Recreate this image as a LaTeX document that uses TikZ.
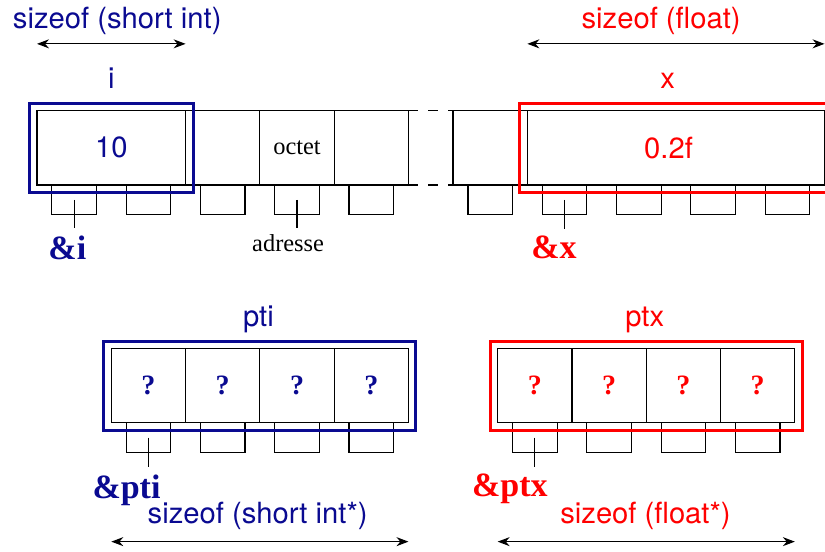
\documentclass[tikz,border=0pt]{standalone}
\usepackage{fontspec}
\setmainfont{Liberation Serif}
\setsansfont{TeX Gyre Heros}
\usepackage{tikz}
\usetikzlibrary{arrows.meta}
\definecolor{varblue}{RGB}{10,10,145}
\definecolor{varred}{RGB}{255,0,0}

\begin{document}
\begin{tikzpicture}[x=37.15pt,y=37.15pt,line width=0.6pt,
  lsans/.style={font=\sffamily\fontsize{14.6}{17}\selectfont},
  lserif/.style={font=\fontsize{12.2}{14}\selectfont},
  lamp/.style={font=\bfseries\fontsize{17}{19}\selectfont,anchor=base east},
  lquest/.style={font=\bfseries\fontsize{14}{17}\selectfont},
  adrbox/.style={draw,minimum width=22.3pt,minimum height=15pt,inner sep=0pt},
  varframe/.style={line width=1.5pt},
  sizearrow/.style={{Stealth[length=6pt,width=4.5pt]}-{Stealth[length=6pt,width=4.5pt]}}]
\useasboundingbox (-0.498,-4.926) rectangle (10.606,2.49);

\draw (0,0) rectangle (2,1) rectangle (3,0) rectangle (4,1) rectangle (5,0);
\draw[dash pattern=on 5pt off 5pt] (5,0) -- (5.6,0) (5,1) -- (5.6,1);
\draw (5.6,0) rectangle (6.6,1) rectangle (10.6,0);

\node[adrbox] (a1) at (0.5,-0.2) {};
\node[adrbox] (a2) at (1.5,-0.2) {};
\node[adrbox] (a3) at (2.5,-0.2) {};
\node[adrbox] (a4) at (3.5,-0.2) {};
\node[adrbox] (a5) at (4.5,-0.2) {};
\node[adrbox] (a6) at (6.1,-0.2) {};
\node[adrbox] (a7) at (7.1,-0.2) {};
\node[adrbox] (a8) at (8.1,-0.2) {};
\node[adrbox] (a9) at (9.1,-0.2) {};
\node[adrbox] (a10) at (10.1,-0.2) {};

\node[lsans,varblue] (vali) at (1,0.5) {10};
\node[lserif] (octet) at (3.5,0.5) {octet};
\node[lsans,varred] (valx) at (8.5,0.5) {0.2f};

\node[lsans,varblue,anchor=base] (nomi) at (1,1.30) {i};
\node[lsans,varred,anchor=base] (nomx) at (8.49,1.30) {x};
\node[lsans,varblue,anchor=base] (sizei) at (1.08,2.11) {sizeof (short int)};
\node[lsans,varred,anchor=base] (sizex) at (8.4,2.11) {sizeof (float)};
\coordinate (si1) at (0,1.9);
\coordinate (si2) at (2,1.9);
\coordinate (sx1) at (6.6,1.9);
\coordinate (sx2) at (10.6,1.9);
\draw[sizearrow] (si1) -- (si2);
\draw[sizearrow] (sx1) -- (sx2);

\node[lamp,varblue] (adri) at (0.76,-1.0) {\&i};
\node[lamp,varred] (adrx) at (7.36,-0.99) {\&x};
\node[lserif,anchor=base] (adresse) at (3.38,-0.898) {adresse};
\draw (a1.center) -- (a1.center |- adri.north);
\draw (a7.center) -- (a7.center |- adrx.north);
\draw (a4.center) -- (a4.center |- adresse.north);

\draw[varframe,varblue] (-0.1,-0.1) rectangle (2.1,1.1);
\draw[varframe,varred] (6.5,-0.1) rectangle (10.7,1.1);

\draw (1,-3.2) rectangle (2,-2.2) rectangle (3,-3.2) rectangle (4,-2.2) rectangle (5,-3.2);
\draw (6.2,-3.2) rectangle (7.2,-2.2) rectangle (8.2,-3.2) rectangle (9.2,-2.2) rectangle (10.2,-3.2);

\node[adrbox] (b1) at (1.5,-3.4) {};
\node[adrbox] (b2) at (2.5,-3.4) {};
\node[adrbox] (b3) at (3.5,-3.4) {};
\node[adrbox] (b4) at (4.5,-3.4) {};
\node[adrbox] (b5) at (6.7,-3.4) {};
\node[adrbox] (b6) at (7.7,-3.4) {};
\node[adrbox] (b7) at (8.7,-3.4) {};
\node[adrbox] (b8) at (9.7,-3.4) {};

\node[lquest,varblue] (qi1) at (1.5,-2.7) {?};
\node[lquest,varblue] (qi2) at (2.5,-2.7) {?};
\node[lquest,varblue] (qi3) at (3.5,-2.7) {?};
\node[lquest,varblue] (qi4) at (4.5,-2.7) {?};
\node[lquest,varred] (qx1) at (6.7,-2.7) {?};
\node[lquest,varred] (qx2) at (7.7,-2.7) {?};
\node[lquest,varred] (qx3) at (8.7,-2.7) {?};
\node[lquest,varred] (qx4) at (9.7,-2.7) {?};

\node[lsans,varblue,anchor=base] (nompti) at (2.98,-1.9) {pti};
\node[lsans,varred,anchor=base] (nomptx) at (8.18,-1.9) {ptx};
\node[lamp,varblue] (adrpti) at (1.76,-4.217) {\&pti};
\node[lamp,varred] (adrptx) at (6.97,-4.195) {\&ptx};
\draw (b1.center) -- (b1.center |- adrpti.north);
\draw (b5.center) -- (b5.center |- adrptx.north);

\node[lsans,varblue,anchor=base] (sizepti) at (2.97,-4.553) {sizeof (short int*)};
\node[lsans,varred,anchor=base] (sizeptx) at (8.19,-4.55) {sizeof (float*)};
\coordinate (sp1) at (1,-4.8);
\coordinate (sp2) at (5,-4.8);
\coordinate (sq1) at (6.2,-4.8);
\coordinate (sq2) at (10.2,-4.8);
\draw[sizearrow] (sp1) -- (sp2);
\draw[sizearrow] (sq1) -- (sq2);

\draw[varframe,varblue] (0.9,-3.3) rectangle (5.1,-2.1);
\draw[varframe,varred] (6.1,-3.3) rectangle (10.3,-2.1);
\end{tikzpicture}
\end{document}
